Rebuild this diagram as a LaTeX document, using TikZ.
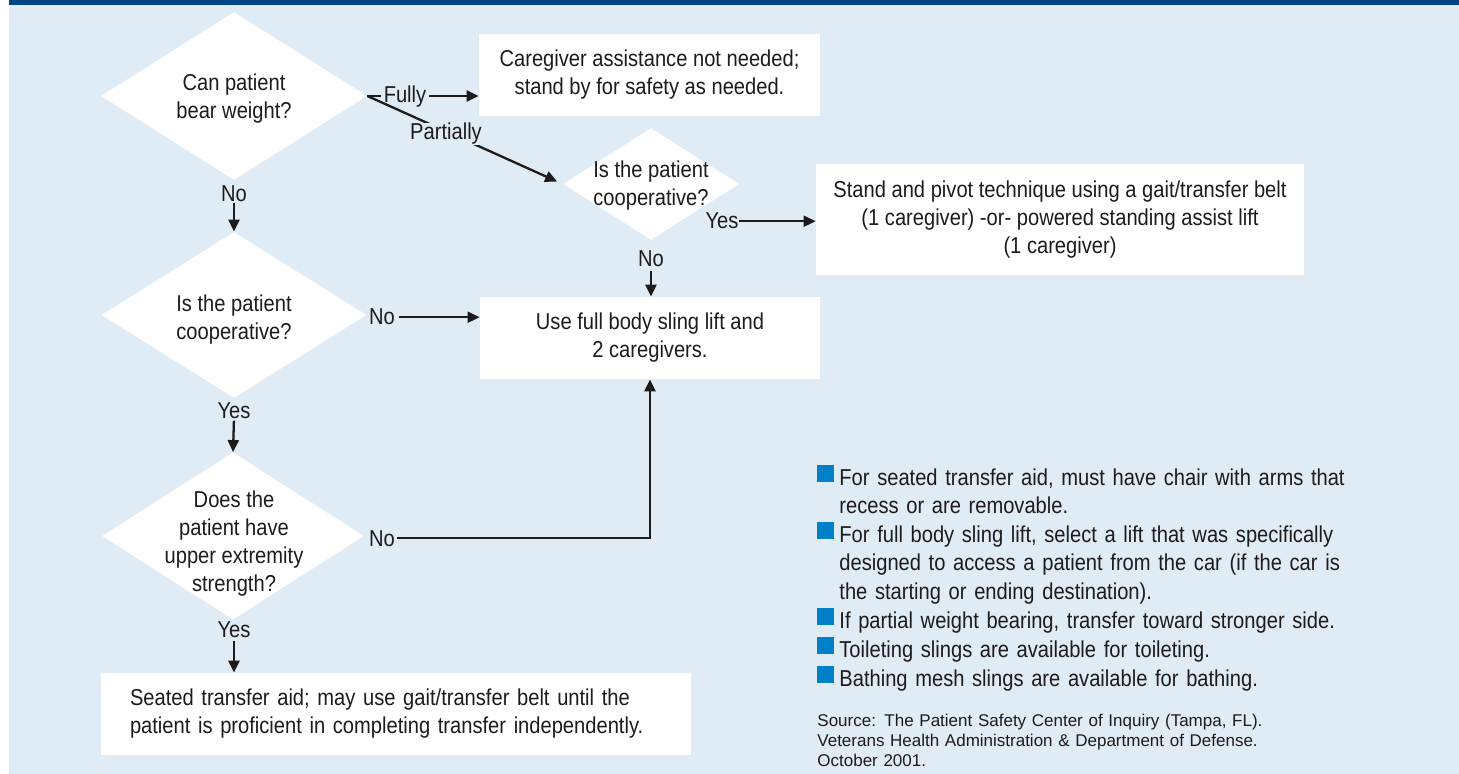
\documentclass[tikz,border=0pt]{standalone}
\usepackage{fontspec}
\setmainfont{Liberation Sans}[FakeStretch=0.875]
\newfontfamily\srcfont{Liberation Sans}
\usetikzlibrary{shapes.geometric,arrows.meta}
\definecolor{bgblue}{RGB}{223,235,245}
\definecolor{barblue}{RGB}{0,70,135}
\definecolor{bulletblue}{RGB}{0,128,200}
\definecolor{ink}{RGB}{30,27,28}
\begin{document}
\begin{tikzpicture}[x=0.5pt,y=-0.5pt,
  every node/.style={text=ink},
  txt/.style={font=\fontsize{11.5pt}{14pt}\selectfont, align=center, inner sep=0pt},
  dia/.style={diamond, fill=white, inner sep=0pt},
  wbox/.style={rectangle, fill=white, inner sep=0pt, txt},
  lab/.style={font=\fontsize{11.5pt}{14pt}\selectfont, inner sep=0pt, anchor=base},
  cover/.style={fill=bgblue, inner xsep=1.5pt},
  arr/.style={line width=1.15pt, draw=ink, -{Triangle[length=6pt,width=5.5pt]}},
  item/.style={font=\fontsize{11.5pt}{14.3pt}\selectfont, align=left, text width=260pt, inner sep=0pt, anchor=base west},
  srcnode/.style={font=\srcfont\fontsize{8.5pt}{10.15pt}\selectfont, align=left, text width=260pt, inner sep=0pt, anchor=base west},
  sq/.style={fill=bulletblue}
]
\useasboundingbox (0,0) rectangle (1459,774);
\fill[bgblue] (9,0) rectangle (1459,774);
\fill[barblue] (9,0) rectangle (1459,5);

% decision diamonds
\node[dia, minimum width=133pt, minimum height=84pt] (d1) at (234,96) {};
\node[txt] (t1) at (234,98.5) {Can patient\\bear weight?};
\node[dia, minimum width=88pt, minimum height=56pt] (d2) at (651,184) {};
\node[txt] (t2) at (651,185.5) {Is the patient\\cooperative?};
\node[dia, minimum width=132.5pt, minimum height=83pt] (d3) at (234,315) {};
\node[txt] (t3) at (234,320) {Is the patient\\cooperative?};
\node[dia, minimum width=131pt, minimum height=83.5pt] (d4) at (233,536) {};
\node[txt] (t4) at (234,544) {Does the\\patient have\\upper extremity\\strength?};

% outcome boxes
\node[wbox, minimum width=170.5pt, minimum height=41pt] (b1) at (649.5,75) {Caregiver assistance not needed;\\stand by for safety as needed.};
\node[wbox, minimum width=244pt, minimum height=55.5pt] (b2) at (1060,219.5) {Stand and pivot technique using a gait/transfer belt\\(1 caregiver) -or- powered standing assist lift\\(1 caregiver)};
\node[wbox, minimum width=170pt, minimum height=41pt] (b3) at (650,338) {Use full body sling lift and\\2 caregivers.};
\node[wbox, minimum width=295pt, minimum height=41pt, text width=266pt, align=left] (b4) at (396,714) {Seated transfer aid; may use gait/transfer belt until the\\patient is proficient in completing transfer independently.};

% connectors
\draw[arr] (d1.east) -- (b1.west |- d1.east);
\node[lab, cover] (fully) at (405,103) {Fully};
\draw[arr, shorten >=3pt] (d1.east) -- (d2.west);
\node[lab, cover] (partially) at (446,140) {Partially};

\node[lab] (y2) at (722,229) {Yes};
\draw[arr] (y2.east) -- (y2.east -| b2.west);
\node[lab] (n2) at (651,267) {No};
\draw[arr, shorten <=1.5pt] (n2.south) -- (n2.south |- b3.north);

\node[lab] (n1) at (234,202) {No};
\draw[arr] (n1.south) -- (d3.north);
\node[lab] (n3) at (382,325) {No};
\draw[arr, shorten <=2pt] (n3.east) -- (n3.east -| b3.west);

\node[lab] (y3) at (234,418) {Yes};
\draw[arr, shorten <=1pt] (y3.south) -- (d4.north);
\node[lab] (n4) at (382,546) {No};
\draw[arr, shorten <=1pt] (n4.east) -| (b3.south);
\node[lab] (y4) at (234,637) {Yes};
\draw[arr, shorten <=1.5pt] (y4.south) -- (y4.south |- b4.north);

% notes
\node[item] (i1) at (839,485) {For seated transfer aid, must have chair with arms that\\recess or are removable.};
\node[item] (i2) at (839,542) {For full body sling lift, select a lift that was specifically\\designed to access a patient from the car (if the car is\\the starting or ending destination).};
\node[item] (i3) at (839,628) {If partial weight bearing, transfer toward stronger side.};
\node[item] (i4) at (839,657) {Toileting slings are available for toileting.};
\node[item] (i5) at (839,686) {Bathing mesh slings are available for bathing.};
\foreach \b in {485,542,628,657,686}{
  \fill[sq] (817,\b-20) rectangle (833.5,\b-3.5);
}
\node[srcnode] (src) at (817,726) {Source: The Patient Safety Center of Inquiry (Tampa, FL).\\Veterans Health Administration \& Department of Defense.\\October 2001.};
\end{tikzpicture}
\end{document}
